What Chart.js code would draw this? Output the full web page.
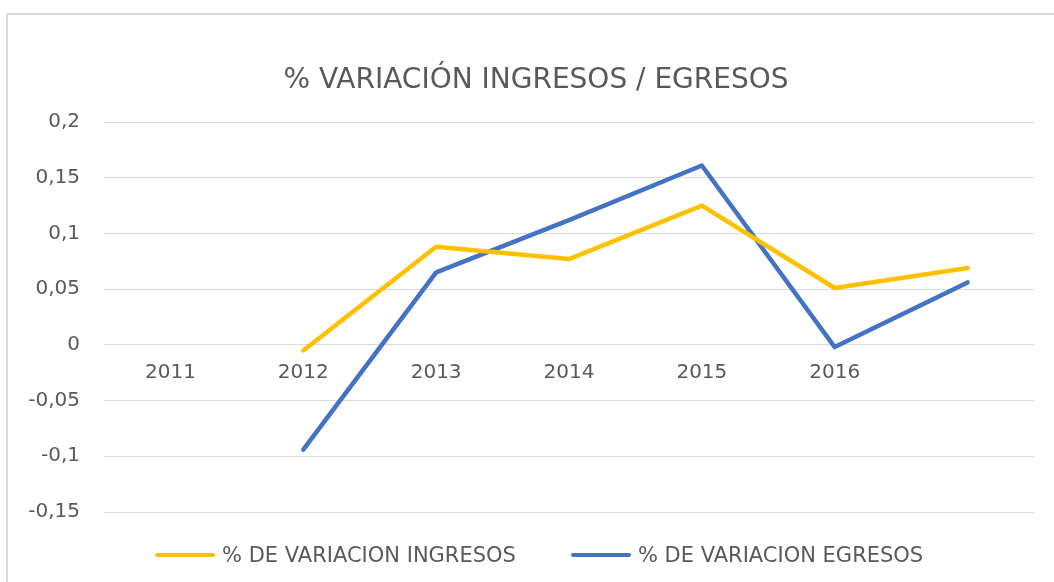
<!DOCTYPE html>
<html>
<head>
<meta charset="utf-8">
<script src="https://cdn.jsdelivr.net/npm/chart.js@4"></script>
<style>
  body { margin: 0; background: #ffffff; overflow: hidden; }
  #frame {
    position: absolute; left: 6px; top: 13px; width: 1100px; height: 600px;
    border: 2px solid #d9d9d9; box-sizing: border-box;
  }
  #wrap { position: absolute; left: 0; top: 0; width: 1054px; height: 582px; }
  #legend {
    position: absolute; top: 543px; left: 155px; display: flex; align-items: center;
    font-family: "DejaVu Sans", sans-serif; font-size: 21px; color: #595959;
    white-space: nowrap;
  }
  .item { display: flex; align-items: center; margin-right: 55px; }
  .swatch { width: 60px; height: 4.5px; border-radius: 2px; margin-right: 7px; }
</style>
</head>
<body>
<div id="frame"></div>
<div id="wrap"><canvas id="myChart"></canvas></div>
<div id="legend"></div>
<script>
const years = ["2011", "2012", "2013", "2014", "2015", "2016", ""];
const ingresos = [null, -0.005, 0.088, 0.077, 0.125, 0.051, 0.069];
const egresos = [null, -0.094, 0.065, 0.112, 0.161, -0.002, 0.056];
const seriesNames = ["% DE VARIACION INGRESOS", "% DE VARIACION EGRESOS"];
const seriesColors = ["#FFC000", "#4472C4"];

const fmt = (v) => {
  const r = Math.round(v * 100) / 100;
  return r.toString().replace(".", ",");
};

const data = {
  labels: years,
  datasets: [ingresos, egresos].map((values, i) => ({
    label: seriesNames[i],
    data: values,
    borderColor: seriesColors[i],
    backgroundColor: seriesColors[i],
    borderWidth: 4.5,
    borderCapStyle: "round",
    borderJoinStyle: "round",
    pointRadius: 0,
    tension: 0,
  })),
};

const options = {
  responsive: true,
  maintainAspectRatio: false,
  animation: false,
  layout: { padding: { top: 64, left: 20, right: 2, bottom: 70 } },
  plugins: {
    legend: { display: false }, // legenda w HTML poniżej
    tooltip: { enabled: false },
    title: {
      display: true,
      text: "% VARIACIÓN INGRESOS / EGRESOS",
      color: "#595959",
      font: { family: "'DejaVu Sans'", size: 28, weight: "normal" },
      padding: { top: 0, bottom: 24.4 },
    },
  },
  scales: {
    x: {
      position: { y: 0 },
      offset: true,
      grid: { display: false, drawTicks: false },
      border: { display: false },
      ticks: {
        color: "#595959",
        padding: 16,
        font: { family: "'DejaVu Sans'", size: 20 },
        maxRotation: 0,
        autoSkip: false,
      },
    },
    y: {
      min: -0.15,
      max: 0.2,
      afterFit: (scale) => { scale.width = 84; },
      grid: { color: "#d9d9d9", lineWidth: 1, drawTicks: false },
      border: { display: false },
      ticks: {
        stepSize: 0.05,
        color: "#595959",
        padding: 24,
        font: { family: "'DejaVu Sans'", size: 20 },
        callback: (v) => fmt(v),
      },
    },
    // pusta oś po prawej, żeby tytuł był wyśrodkowany jak w oryginale
    yRight: {
      type: "linear",
      position: "right",
      display: true,
      grid: { display: false, drawTicks: false },
      border: { display: false },
      ticks: { display: false },
      afterFit: (scale) => { scale.width = 18; },
    },
  },
};

new Chart(document.getElementById("myChart"), {
  type: "line",
  data: data,
  options: options,
});

// legenda
const legend = document.getElementById("legend");
seriesNames.forEach((name, i) => {
  const item = document.createElement("div");
  item.className = "item";
  const sw = document.createElement("span");
  sw.className = "swatch";
  sw.style.background = seriesColors[i];
  const txt = document.createElement("span");
  txt.textContent = name;
  item.appendChild(sw);
  item.appendChild(txt);
  legend.appendChild(item);
});
</script>
</body>
</html>
